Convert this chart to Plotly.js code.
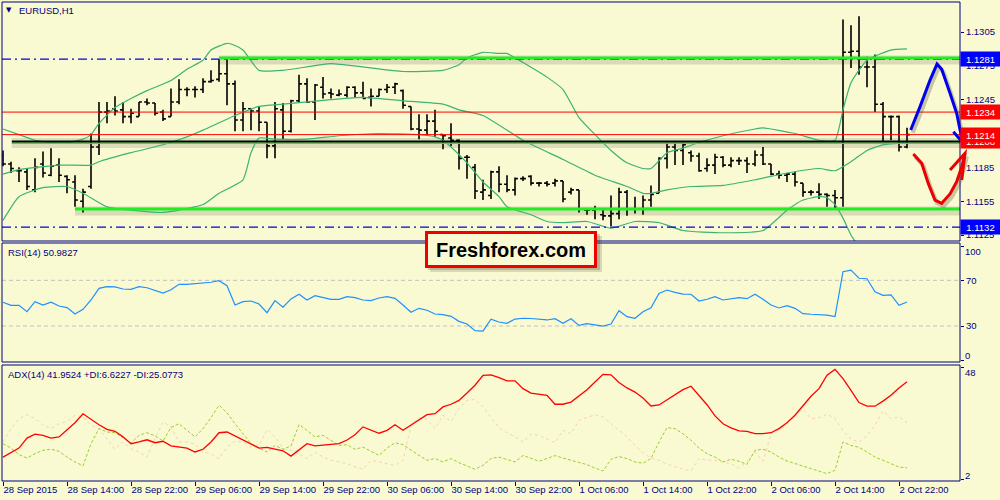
<!DOCTYPE html>
<html><head><meta charset="utf-8">
<script src="https://cdn.plot.ly/plotly-3.0.1.min.js"></script>
<style>html,body{margin:0;padding:0;background:#FAFAD2;}#chart{width:1000px;height:500px;}</style>
</head><body><div id="chart"></div>
<script>
// ---------------- data ----------------
const symbolLabel = 'EURUSD,H1';
const rsiLabel = 'RSI(14) 50.9827';
const adxLabel = 'ADX(14) 41.9524 +DI:6.6227 -DI:25.0773';
const brandText = 'Freshforex.com';

const tickBars = [0,8,16,24,32,40,48,56,64,72,80,88,96,104,112];
const tickLabels = ['28 Sep 2015','28 Sep 14:00','28 Sep 22:00','29 Sep 06:00','29 Sep 14:00','29 Sep 22:00',
  '30 Sep 06:00','30 Sep 14:00','30 Sep 22:00','1 Oct 06:00','1 Oct 14:00','1 Oct 22:00','2 Oct 06:00','2 Oct 14:00','2 Oct 22:00'];

const open = [
1.1196,1.1188,1.1182,1.1181,1.1165,1.1188,1.1178,1.1187,1.1177,1.1172,
1.1155,1.1168,1.1203,1.1234,1.1237,1.1236,1.1230,1.1230,1.1243,1.1242,
1.1234,1.1230,1.1243,1.1254,1.1254,1.1254,1.1261,1.1263,1.1268,1.1259,
1.1227,1.1237,1.1235,1.1225,1.1204,1.1236,1.1217,1.1244,1.1259,1.1243,
1.1256,1.1251,1.1249,1.1249,1.1256,1.1251,1.1247,1.1248,1.1254,1.1256,
1.1253,1.1239,1.1219,1.1218,1.1226,1.1214,1.1211,1.1209,1.1194,1.1185,
1.1163,1.1160,1.1181,1.1170,1.1165,1.1175,1.1177,1.1171,1.1171,1.1171,
1.1173,1.1163,1.1165,1.1147,1.1147,1.1143,1.1142,1.1144,1.1163,1.1148,
1.1148,1.1156,1.1162,1.1193,1.1203,1.1200,1.1198,1.1195,1.1184,1.1187,
1.1194,1.1187,1.1191,1.1191,1.1188,1.1196,1.1188,1.1179,1.1178,1.1179,
1.1171,1.1163,1.1163,1.1161,1.1160,1.1158,1.1287,1.1288,1.1274,1.1274,
1.1241,1.1230,1.1230,1.1203];
const high = [
1.1200,1.1190,1.1185,1.1184,1.1193,1.1199,1.1202,1.1193,1.1178,1.1178,
1.1166,1.1215,1.1243,1.1243,1.1248,1.1243,1.1237,1.1243,1.1246,1.1242,
1.1236,1.1255,1.1263,1.1256,1.1257,1.1264,1.1271,1.1281,1.1282,1.1262,
1.1243,1.1237,1.1239,1.1225,1.1243,1.1242,1.1245,1.1267,1.1264,1.1259,
1.1265,1.1255,1.1254,1.1257,1.1257,1.1261,1.1255,1.1255,1.1259,1.1260,
1.1254,1.1239,1.1232,1.1232,1.1236,1.1214,1.1224,1.1210,1.1196,1.1188,
1.1174,1.1182,1.1186,1.1178,1.1176,1.1177,1.1178,1.1172,1.1173,1.1175,
1.1173,1.1167,1.1165,1.1148,1.1151,1.1148,1.1160,1.1167,1.1165,1.1159,
1.1160,1.1169,1.1194,1.1207,1.1207,1.1207,1.1200,1.1198,1.1193,1.1197,
1.1195,1.1194,1.1194,1.1194,1.1200,1.1203,1.1188,1.1182,1.1180,1.1181,
1.1171,1.1165,1.1171,1.1162,1.1165,1.1316,1.1311,1.1319,1.1283,1.1285,
1.1243,1.1231,1.1231,1.1220];
const low = [
1.1186,1.1180,1.1172,1.1165,1.1163,1.1176,1.1177,1.1172,1.1162,1.1150,
1.1145,1.1166,1.1196,1.1224,1.1231,1.1224,1.1224,1.1230,1.1240,1.1231,
1.1226,1.1230,1.1241,1.1248,1.1247,1.1251,1.1260,1.1261,1.1240,1.1217,
1.1217,1.1218,1.1217,1.1193,1.1193,1.1210,1.1216,1.1242,1.1242,1.1227,
1.1246,1.1246,1.1248,1.1247,1.1247,1.1246,1.1239,1.1248,1.1251,1.1250,
1.1237,1.1218,1.1210,1.1214,1.1212,1.1201,1.1204,1.1183,1.1175,1.1157,
1.1156,1.1157,1.1163,1.1163,1.1160,1.1173,1.1169,1.1168,1.1168,1.1168,
1.1154,1.1161,1.1145,1.1143,1.1139,1.1138,1.1133,1.1139,1.1142,1.1144,
1.1143,1.1150,1.1162,1.1184,1.1187,1.1187,1.1190,1.1181,1.1181,1.1179,
1.1185,1.1185,1.1187,1.1180,1.1186,1.1187,1.1178,1.1175,1.1172,1.1168,
1.1159,1.1160,1.1157,1.1150,1.1148,1.1150,1.1273,1.1267,1.1256,1.1234,
1.1208,1.1209,1.1199,1.1202];
const close = [
1.1188,1.1184,1.1182,1.1168,1.1185,1.1180,1.1186,1.1178,1.1174,1.1156,
1.1163,1.1203,1.1234,1.1235,1.1235,1.1230,1.1233,1.1243,1.1242,1.1233,
1.1228,1.1243,1.1254,1.1254,1.1254,1.1261,1.1262,1.1268,1.1259,1.1227,
1.1237,1.1235,1.1225,1.1204,1.1237,1.1217,1.1244,1.1259,1.1243,1.1258,
1.1250,1.1250,1.1250,1.1256,1.1251,1.1246,1.1248,1.1254,1.1256,1.1259,
1.1240,1.1219,1.1218,1.1226,1.1217,1.1213,1.1209,1.1193,1.1194,1.1164,
1.1165,1.1181,1.1170,1.1165,1.1175,1.1175,1.1171,1.1171,1.1170,1.1173,
1.1157,1.1165,1.1148,1.1147,1.1148,1.1142,1.1144,1.1163,1.1148,1.1148,
1.1156,1.1161,1.1193,1.1203,1.1200,1.1205,1.1195,1.1182,1.1187,1.1194,
1.1187,1.1191,1.1191,1.1188,1.1196,1.1188,1.1179,1.1178,1.1179,1.1172,
1.1163,1.1163,1.1161,1.1160,1.1158,1.1287,1.1288,1.1274,1.1274,1.1241,
1.1230,1.1230,1.1203,1.1214];

// Bollinger band lines (bar index, price)
const bbUpperBar = [0,2,4,6,8,10,11,12,14,16,18,21,23,25,26,28,29,30,32,35,41,45,50,55,57,58,60,62,63,65,68,70,72,74,76,78,80,81,83,85,87,90,94,95,99,102,104,105,106,108,111,113];
const bbUpper = [1.1219,1.1214,1.1209,1.1207,1.1207,1.1210,1.1214,1.1224,1.1238,1.1246,1.1253,1.1262,1.1272,1.1280,1.1289,1.1295,1.1293,1.1289,1.1271,1.1271,
  1.1277,1.1274,1.1270,1.1271,1.1276,1.1282,1.1287,1.1286,1.1286,1.1278,1.1265,1.1254,1.1229,1.1214,1.1200,1.1189,1.1184,1.1184,1.1198,1.1202,
  1.1207,1.1213,1.1219,1.1220,1.1215,1.1209,1.1209,1.1236,1.1260,1.1280,1.1289,1.1290];
const bbMidBar = [0,2,7,11,12,16,20,23,25,29,32,35,41,45,50,55,57,60,65,70,74,78,80,81,83,86,90,94,98,102,104,106,108,110,113];
const bbMid = [1.1179,1.1183,1.1187,1.1187,1.1190,1.1198,1.1205,1.1212,1.1218,1.1231,1.1239,1.1241,1.1245,1.1247,1.1244,1.1241,1.1236,1.1231,1.1209,1.1192,
  1.1178,1.1168,1.1162,1.1162,1.1165,1.1168,1.1169,1.1174,1.1180,1.1184,1.1182,1.1190,1.1200,1.1205,1.1207];
const bbLowerBar = [0,2,5,8,10,13,16,20,22,25,27,30,31,32,34,38,42,47,52,54,55,56,58,60,62,63,66,68,70,73,76,79,82,85,90,95,98,100,102,103,104,105,106,107];
const bbLower = [1.1138,1.1159,1.1167,1.1168,1.1162,1.1150,1.1147,1.1145,1.1147,1.1152,1.1162,1.1174,1.1198,1.1211,1.1210,1.1210,1.1213,1.1215,1.1214,1.1212,
  1.1209,1.1203,1.1189,1.1172,1.1159,1.1150,1.1143,1.1137,1.1136,1.1137,1.1131,1.1137,1.1136,1.1129,1.1127,1.1129,1.1147,1.1156,1.1159,1.1158,
  1.1152,1.1140,1.1125,1.1114];

const rsi = [
50.8,48.1,48.1,42.5,51.3,48.4,50.8,47.5,46.1,40.5,
44.6,52.8,63.0,64.4,64.2,62.4,62.1,64.4,63.5,60.9,
58.9,61.8,66.5,66.5,67.1,68.0,68.3,69.7,65.3,48.4,
51.3,51.9,49.3,41.7,52.2,46.4,53.7,57.8,52.8,56.6,
54.8,53.4,53.4,55.7,54.8,52.8,52.2,54.5,55.7,54.2,
48.4,42.0,45.5,43.8,40.5,39.9,38.5,34.1,31.8,25.9,
25.6,35.9,33.5,32.4,36.1,36.8,36.6,35.9,35.3,36.4,
32.4,36.4,30.6,32.1,31.2,30.0,31.8,43.4,38.2,36.8,
42.5,46.0,58.6,61.5,59.5,58.0,57.8,51.9,53.4,55.7,
52.8,53.9,54.8,53.9,57.8,53.4,48.4,45.8,47.8,45.5,
40.8,40.3,40.0,39.6,38.2,77.6,79.0,71.8,71.4,60.0,
56.9,57.2,48.1,51.0];
const rsiLevels = [70,30];

const adx = [
11.0,12.7,14.7,18.8,20.4,19.9,18.8,19.3,22.0,25.1,
28.8,26.5,24.3,22.4,21.6,19.3,16.5,17.2,18.1,16.9,
17.5,15.6,15.1,14.7,13.1,14.2,17.2,21.0,21.3,19.7,
17.9,16.5,14.7,15.0,14.2,13.6,11.4,13.9,16.5,15.6,
15.8,16.1,16.5,18.0,20.2,23.4,22.0,20.8,22.0,24.3,
22.0,24.1,26.2,28.4,28.8,31.6,32.7,34.3,37.3,40.5,
44.6,44.8,43.6,42.3,42.3,39.1,37.3,37.0,36.4,32.7,
32.7,33.6,36.0,38.7,41.8,45.0,44.8,41.6,39.4,37.7,
35.3,32.0,32.4,34.6,36.6,38.7,40.1,36.1,32.5,27.9,
24.7,23.0,21.8,21.6,20.6,20.6,21.0,22.7,25.1,28.2,
31.9,36.0,39.1,44.6,47.0,43.2,38.4,33.4,31.9,31.9,
34.0,36.4,39.4,41.95];
const plusDI = [
16.5,14.7,12.0,10.6,12.4,13.8,14.2,13.4,11.0,9.0,
7.4,16.5,22.7,21.3,21.0,18.8,16.9,19.9,21.0,19.7,
17.6,23.2,24.7,22.0,19.3,22.7,27.2,32.3,29.2,24.7,
20.6,16.5,14.7,13.1,15.8,14.2,15.6,24.3,22.0,19.3,
19.9,17.9,15.8,16.1,14.2,15.1,13.4,11.7,14.7,16.9,
16.1,13.8,11.7,9.7,10.4,9.0,10.4,8.7,7.4,6.0,
7.6,10.4,11.0,10.1,9.0,11.7,10.6,9.3,10.4,11.6,
10.6,9.6,8.6,7.9,6.5,5.3,10.1,11.2,10.4,9.0,
8.5,10.4,17.2,23.1,22.7,20.6,17.9,14.7,12.4,11.0,
9.0,10.1,9.3,8.0,13.8,14.2,13.1,11.0,9.4,8.3,
7.4,6.2,5.2,4.2,5.6,17.2,15.8,15.0,13.1,11.0,
9.7,8.3,6.9,6.62];
const minusDI = [
17.2,22.7,26.8,28.4,26.8,24.1,22.7,24.6,25.8,28.2,
27.5,24.1,22.7,18.6,14.2,17.2,14.4,13.1,11.0,18.6,
25.4,23.4,17.2,17.2,16.3,13.1,12.4,10.4,15.1,17.5,
17.2,15.1,15.8,22.4,19.3,14.4,13.8,12.4,10.4,13.1,
11.0,9.7,9.0,8.3,7.0,6.0,9.7,9.0,8.3,7.6,
9.7,24.1,27.1,26.5,22.7,28.2,25.6,30.9,34.3,34.7,
31.6,27.5,23.0,21.0,19.3,17.2,20.4,19.9,18.3,16.9,
22.0,20.6,26.1,27.3,28.4,27.5,24.7,22.0,19.3,15.8,
12.8,10.6,9.7,8.1,6.9,6.0,5.2,10.4,9.7,9.7,
9.0,8.3,6.5,9.0,13.1,9.3,20.6,22.0,24.3,28.2,
30.6,26.8,27.1,28.6,26.8,22.0,18.3,17.2,19.7,24.1,
30.0,26.8,27.5,25.08];

const priceTicks = [1.1305,1.1275,1.1245,1.1215,1.1185,1.1155,1.1125];
const priceTickText = ['1.1305','1.1275','1.1245','','1.1185','1.1155','1.1125'];
const blueLevels = [1.1281,1.1132];
const redLevels = [1.1234,1.1214];
const greenTrendStart = [27,9];
const greenTrendLevel = [1.1282,1.1148];
const blackTrendStart = 1.1;
const blackTrendLevel = 1.1208;
const redBoxLabels = [1.1208,1.1234,1.1214];
const blueBoxLabels = [1.1281,1.1132];

// hand-drawn forecast arrows (bar index, price)
const blueArrowBar = [113.46,114.63,115.88,116.75,117.34,118.38,119.21,119.63,120.13];
const blueArrowPrice = [1.12181,1.12388,1.12624,1.12766,1.12719,1.12506,1.12329,1.12181,1.12057];
const blueWingBar = [118.79,120.13];
const blueWingPrice = [1.12166,1.12057];
const redArrowBar = [113.79,114.84,115.66,116.5,117.34,118.38,119.21,119.84,120.25];
const redArrowPrice = [1.11969,1.11886,1.11708,1.11560,1.11531,1.11614,1.11723,1.11856,1.11974];
const redWingBar = [118.38,120.25,119.84];
const redWingPrice = [1.11826,1.11974,1.11738];

// ---------------- layout helpers ----------------
const W = 1000, H = 500, ML = 2, MR = 40, MT = 2, MB = 19;
const plotW = W - ML - MR, plotH = H - MT - MB;
const pY = py => (H - MB - py) / plotH;
const pX = px => (px - ML) / plotW;
const domMain = [pY(241), 1], domRsi = [pY(362), pY(243)], domAdx = [0, pY(365)];
const xRange = [-0.125, 119.625];
const yMain = [1.11197, 1.13316], yRsi = [-1.49, 102.67], yAdx = [1.18, 48.82];
const toPX = b => (b - xRange[0]) / (xRange[1] - xRange[0]);
const toPY = p => domMain[0] + (p - yMain[0]) / (yMain[1] - yMain[0]) * (domMain[1] - domMain[0]);
const pathOf = (bs, ps, dx, dy) => bs.map((b, k) => (k ? 'L' : 'M') + (toPX(b) + (dx||0)/plotW).toFixed(5) + ',' + (toPY(ps[k]) - (dy||0)/plotH).toFixed(5)).join(' ');

const bars = open.map((_, k) => k);
const NAVY = '#000080';
const FONT = 'Liberation Sans, Arial, sans-serif';
const BG = '#FAFAD2';

// ---------------- traces ----------------
const traces = [
  {type:'ohlc', x:bars, open, high, low, close, xaxis:'x', yaxis:'y', tickwidth:0.36,
   increasing:{line:{color:'#000000', width:1.6}}, decreasing:{line:{color:'#000000', width:1.6}}, hoverinfo:'skip'},
  {type:'scatter', mode:'lines', x:bbUpperBar, y:bbUpper, xaxis:'x', yaxis:'y', line:{color:'#3CB371', width:1.2, shape:'spline', smoothing:0.5}},
  {type:'scatter', mode:'lines', x:bbMidBar, y:bbMid, xaxis:'x', yaxis:'y', line:{color:'#3CB371', width:1.2, shape:'spline', smoothing:0.5}},
  {type:'scatter', mode:'lines', x:bbLowerBar, y:bbLower, xaxis:'x', yaxis:'y', line:{color:'#3CB371', width:1.2, shape:'spline', smoothing:0.5}},
  {type:'scatter', mode:'lines', x:bars, y:rsi, xaxis:'x', yaxis:'y2', line:{color:'#1E90FF', width:1.2}},
  {type:'scatter', mode:'lines', x:bars, y:minusDI, xaxis:'x', yaxis:'y3', line:{color:'#F3D3B5', width:1, dash:'dot'}},
  {type:'scatter', mode:'lines', x:bars, y:plusDI, xaxis:'x', yaxis:'y3', line:{color:'#9ACD32', width:1, dash:'3px,2px'}},
  {type:'scatter', mode:'lines', x:bars, y:adx, xaxis:'x', yaxis:'y3', line:{color:'#FF0000', width:1.3}}
];

// ---------------- shapes ----------------
const shapes = [];
greenTrendLevel.forEach((lv, k) => {
  shapes.push({type:'line', layer:'below', xref:'x', yref:'y', x0:greenTrendStart[k], x1:xRange[1], y0:lv - 0.00018, y1:lv - 0.00018,
    line:{color:'rgba(90,90,70,0.20)', width:9}});
});
shapes.push({type:'line', layer:'below', xref:'x', yref:'y', x0:blackTrendStart, x1:xRange[1], y0:blackTrendLevel - 0.00015, y1:blackTrendLevel - 0.00015,
  line:{color:'rgba(90,90,70,0.18)', width:10}});
redLevels.forEach(lv => shapes.push({type:'line', layer:'above', xref:'paper', yref:'y', x0:0, x1:1, y0:lv, y1:lv, line:{color:'#FF0000', width:1}}));
blueLevels.forEach(lv => shapes.push({type:'line', layer:'above', xref:'paper', yref:'y', x0:0, x1:1, y0:lv, y1:lv, line:{color:'#0000DD', width:1.2, dash:'9px,4px,2px,4px'}}));
greenTrendLevel.forEach((lv, k) => {
  shapes.push({type:'line', layer:'above', xref:'x', yref:'y', x0:greenTrendStart[k], x1:xRange[1], y0:lv, y1:lv, line:{color:'#22EE22', width:3}});
});
shapes.push({type:'line', layer:'above', xref:'x', yref:'y', x0:blackTrendStart, x1:xRange[1], y0:blackTrendLevel - 0.00017, y1:blackTrendLevel - 0.00017, line:{color:'#22EE22', width:1.5}});
shapes.push({type:'line', layer:'above', xref:'x', yref:'y', x0:blackTrendStart, x1:xRange[1], y0:blackTrendLevel, y1:blackTrendLevel, line:{color:'#000000', width:2}});
rsiLevels.forEach(lv => shapes.push({type:'line', layer:'below', xref:'paper', yref:'y2', x0:0, x1:1, y0:lv, y1:lv, line:{color:'#C0C0C0', width:1, dash:'4px,3px'}}));
[domMain, domRsi, domAdx].forEach(d => shapes.push({type:'rect', layer:'above', xref:'paper', yref:'paper', x0:0, x1:1, y0:d[0], y1:d[1], line:{color:NAVY, width:1}}));
shapes.push({type:'path', layer:'above', xref:'paper', yref:'paper', path:pathOf(blueArrowBar, blueArrowPrice, 2, 3), line:{color:'rgba(80,80,60,0.30)', width:4}});
shapes.push({type:'path', layer:'above', xref:'paper', yref:'paper', path:pathOf(redArrowBar, redArrowPrice, 2, 3), line:{color:'rgba(80,80,60,0.30)', width:4}});
shapes.push({type:'path', layer:'above', xref:'paper', yref:'paper', path:pathOf(blueArrowBar, blueArrowPrice), line:{color:'#0000EE', width:3}});
shapes.push({type:'path', layer:'above', xref:'paper', yref:'paper', path:pathOf(blueWingBar, blueWingPrice), line:{color:'#0000EE', width:3}});
shapes.push({type:'path', layer:'above', xref:'paper', yref:'paper', path:pathOf(redArrowBar, redArrowPrice), line:{color:'#EE0000', width:3}});
shapes.push({type:'path', layer:'above', xref:'paper', yref:'paper', path:pathOf(redWingBar, redWingPrice), line:{color:'#EE0000', width:3}});
shapes.push({type:'rect', layer:'above', xref:'paper', yref:'paper', x0:pX(430), x1:pX(602), y0:pY(272), y1:pY(236), fillcolor:'rgba(60,60,40,0.18)', line:{width:0}});
shapes.push({type:'rect', layer:'above', xref:'paper', yref:'paper', x0:pX(428), x1:pX(600), y0:pY(270), y1:pY(234), fillcolor:'rgba(60,60,40,0.22)', line:{width:0}});

// ---------------- annotations ----------------
const ann = [];
const small = (c) => ({family:FONT, size:9.5, color:c||NAVY});
ann.push({xref:'paper', yref:'paper', x:pX(4), y:pY(10.5), xanchor:'left', yanchor:'middle', text:'▼', showarrow:false, font:{family:'DejaVu Sans', size:7, color:NAVY}});
ann.push({xref:'paper', yref:'paper', x:pX(17), y:pY(11), xanchor:'left', yanchor:'middle', text:symbolLabel, showarrow:false, font:small()});
ann.push({xref:'paper', yref:'paper', x:pX(6), y:pY(252.5), xanchor:'left', yanchor:'middle', text:rsiLabel, showarrow:false, font:small()});
ann.push({xref:'paper', yref:'paper', x:pX(6), y:pY(374), xanchor:'left', yanchor:'middle', text:adxLabel, showarrow:false, font:small()});
[['100',251],['0',355.5],['48',372],['2',475.5]].forEach(([t, py]) => ann.push({xref:'paper', yref:'paper', x:1, xshift:3, y:pY(py), xanchor:'left', yanchor:'middle', text:t, showarrow:false, font:small()}));
redBoxLabels.forEach(v => ann.push({xref:'paper', yref:'y', x:1, xshift:0, y:v, xanchor:'left', yanchor:'middle', text:v.toFixed(4), showarrow:false,
  font:{family:FONT, size:9.5, color:'#FFFFFF'}, bgcolor:'#FF0000', width:37, height:12, borderpad:1, align:'center'}));
blueBoxLabels.forEach(v => ann.push({xref:'paper', yref:'y', x:1, xshift:0, y:v, xanchor:'left', yanchor:'middle', text:v.toFixed(4), showarrow:false,
  font:{family:FONT, size:9.5, color:'#FFFFFF'}, bgcolor:'#0000FF', width:37, height:12, borderpad:1, align:'center'}));
ann.push({xref:'paper', yref:'paper', x:pX(511), y:pY(249), xanchor:'center', yanchor:'middle', text:'<b>' + brandText + '</b>', showarrow:false,
  font:{family:FONT, size:20, color:'#000000'}, bgcolor:'#FAFAD2', bordercolor:'#EE0000', borderwidth:3, borderpad:2, width:162, height:27});

const axBase = {showgrid:false, zeroline:false, showline:false, automargin:false, fixedrange:true};
const layout = {
  width:W, height:H, margin:{l:ML, r:MR, t:MT, b:MB},
  paper_bgcolor:BG, plot_bgcolor:BG, showlegend:false, hovermode:false,
  xaxis:Object.assign({}, axBase, {domain:[0,1], range:xRange, anchor:'y3', tickvals:tickBars, ticktext:tickLabels, ticks:'outside', ticklen:4,
    tickcolor:NAVY, tickfont:small(), tickangle:0, ticklabelposition:'outside right', rangeslider:{visible:false}}),
  yaxis:Object.assign({}, axBase, {domain:domMain, range:yMain, side:'right', anchor:'x', tickvals:priceTicks, ticktext:priceTickText,
    ticks:'outside', ticklen:3, tickcolor:NAVY, tickfont:small()}),
  yaxis2:Object.assign({}, axBase, {domain:domRsi, range:yRsi, side:'right', anchor:'x', tickvals:[100,70,30,0], ticktext:['','70','30',''],
    ticks:'outside', ticklen:3, tickcolor:NAVY, tickfont:small()}),
  yaxis3:Object.assign({}, axBase, {domain:domAdx, range:yAdx, side:'right', anchor:'x', tickvals:[48,2], ticktext:['',''],
    ticks:'outside', ticklen:3, tickcolor:NAVY, tickfont:small()}),
  shapes, annotations:ann
};
Plotly.newPlot('chart', traces, layout, {staticPlot:true, displayModeBar:false});
</script></body></html>
